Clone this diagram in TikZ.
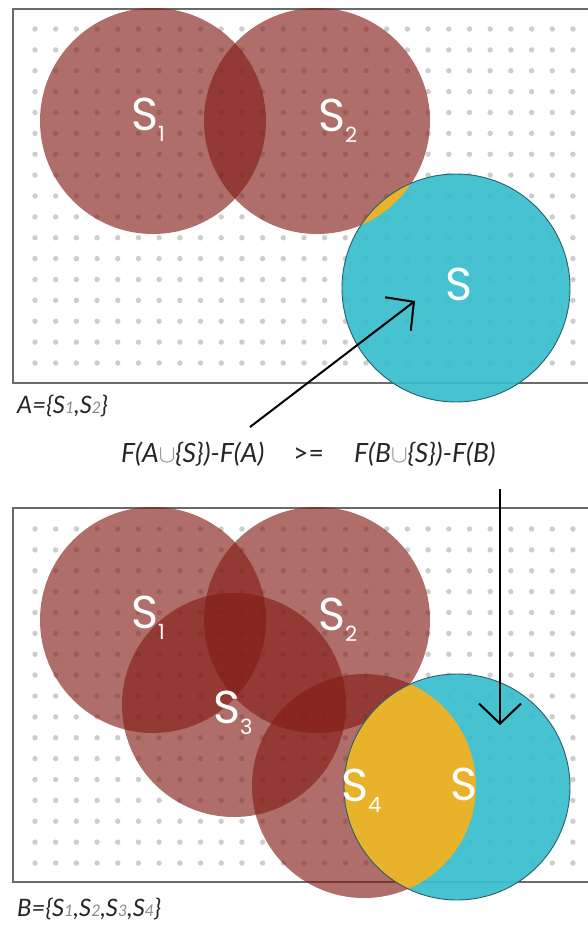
\documentclass[tikz,border=0pt]{standalone}
\usepackage{fontspec}
\setmainfont{Poppins}
\newfontfamily\latofam{Lato}
\usetikzlibrary{arrows.meta}
\definecolor{brn}{RGB}{130,29,21}
\definecolor{cyn}{RGB}{56,190,206}
\definecolor{ylw}{RGB}{233,178,43}
\definecolor{cynline}{RGB}{40,95,105}
\definecolor{dotc}{RGB}{205,205,205}
\definecolor{boxc}{RGB}{105,105,105}
\definecolor{subc}{RGB}{140,140,140}
\newcommand\setlab[1]{S{\fontsize{21}{21}\selectfont\raisebox{-11pt}{#1}}}
\newcommand\subdig[1]{{\fontsize{16}{16}\selectfont\color{subc}#1}}
\tikzset{
  brcirc/.style={fill=brn, fill opacity=0.64},
  cycirc/.style={fill=cyn, fill opacity=0.93},
  cyline/.style={draw=cynline, line width=0.9pt},
  panel/.style={draw=boxc, line width=1.4pt},
  dotstyle/.style={fill=dotc},
  lbl/.style={text=white, inner sep=0pt, anchor=base west, font=\fontsize{46}{46}\selectfont},
  formula/.style={inner sep=0pt, anchor=base west, text=black!85, font=\latofam\itshape\fontsize{26.5}{26.5}\selectfont},
  setname/.style={inner sep=0pt, anchor=base west, text=black!85, font=\latofam\itshape\fontsize{24}{24}\selectfont},
  arr/.style={line width=2pt, -{Straight Barb[length=20pt,width=42pt,line width=2pt]}},
}
\begin{document}
\begin{tikzpicture}[x=1pt,y=-1pt]
\useasboundingbox (0,0) rectangle (587,927);
\fill[white] (0,0) rectangle (587,927);

% ---------- top panel ----------
\draw[panel] (588,9) -- (13,9) -- (13,383) -- (588,383);
\foreach \i in {0,...,26}
  \foreach \j in {0,...,16}
    \fill[dotstyle] ({35+20.69*\i},{29+20.875*\j}) circle (2.7pt);
\fill[brcirc] (153,121) circle (113pt);
\fill[brcirc] (317,121) circle (113pt);
\fill[cycirc] (456,288) circle (114pt);
\begin{scope}
  \clip (317,121) circle (113pt);
  \fill[ylw] (456,288) circle (114pt);
\end{scope}
\draw[cyline] (456,288) circle (114pt);
\node[lbl] (ta1) at (131,130) {\setlab{1}};
\node[lbl] (ta2) at (318,131) {\setlab{2}};
\node[lbl] (tas) at (445,300) {S};

% ---------- bottom panel ----------
\draw[panel] (588,508) -- (13,508) -- (13,882) -- (588,882);
\foreach \i in {0,...,26}
  \foreach \j in {0,...,16}
    \fill[dotstyle] ({35+20.69*\i},{529+20.875*\j}) circle (2.7pt);
\fill[brcirc] (153,620) circle (113pt);
\fill[brcirc] (317,620) circle (113pt);
\fill[brcirc] (234,705) circle (112pt);
\fill[brcirc] (364,786) circle (112pt);
\fill[cycirc] (457,787) circle (113pt);
\begin{scope}
  \clip (364,786) circle (112pt);
  \fill[ylw] (457,787) circle (113pt);
\end{scope}
\begin{scope}
  \clip (317,620) circle (113pt);
  \fill[ylw] (457,787) circle (113pt);
\end{scope}
\draw[cyline] (457,787) circle (113pt);
\node[lbl] (tb1) at (131,628) {\setlab{1}};
\node[lbl] (tb2) at (318,630) {\setlab{2}};
\node[lbl] (tb3) at (213,723) {\setlab{3}};
\node[lbl] (tb4) at (341,801) {\setlab{4}};
\node[lbl] (tbs) at (450,800) {S};

% ---------- texts ----------
\node[setname] (setA) at (17,413) {A=\{S\subdig{1},S\subdig{2}\}};
\node[setname] (setB) at (17,916) {B=\{S\subdig{1},S\subdig{2},S\subdig{3},S\subdig{4}\}};
\node[formula] (fa) at (121,462) {F(A{\color{subc}$\cup$}\{S\})-F(A)};
\node[formula, font=\latofam\fontsize{26.5}{26.5}\selectfont] (ge) at (293,462) {>=};
\node[formula] (fb) at (354,462) {F(B{\color{subc}$\cup$}\{S\})-F(B)};

% ---------- arrows ----------
\coordinate (a1s) at (250,427);
\coordinate (a1e) at (415,301);
\coordinate (a2s) at (500,489);
\coordinate (a2e) at (500,725);
\draw[arr] (a1s) -- (a1e);
\draw[arr] (a2s) -- (a2e);
\end{tikzpicture}
\end{document}
